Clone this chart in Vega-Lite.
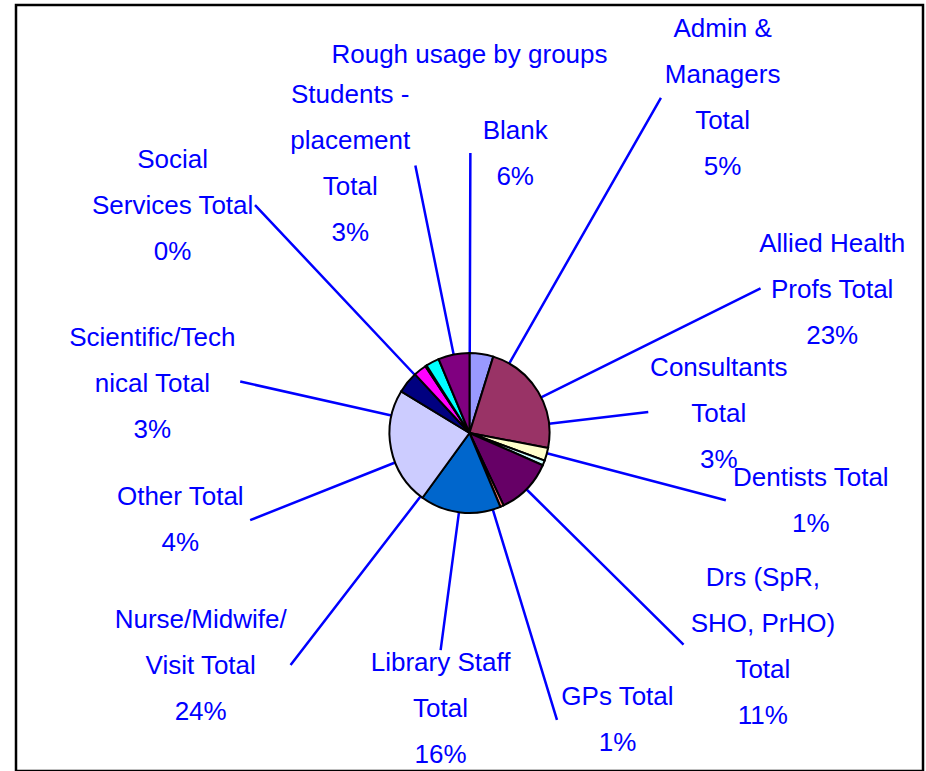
{
  "$schema": "https://vega.github.io/schema/vega-lite/v6.json",
  "width": 907,
  "height": 766,
  "autosize": {"type": "none"},
  "padding": {"left": 16, "top": 5, "right": 3, "bottom": 0},
  "background": "white",
  "view": {"stroke": "black", "strokeWidth": 2.5, "fill": "white"},
  "title": {
    "text": "Rough usage by groups",
    "font": "Liberation Sans, Arial, sans-serif",
    "fontSize": 26,
    "fontWeight": "normal",
    "color": "#0000FF",
    "anchor": "middle",
    "frame": "group",
    "baseline": "alphabetic",
    "offset": -84
  },
  "data": {
    "values": [
      {"idx": 0, "cat": "Admin & Managers Total", "value": 4.8, "label": "Admin &\nManagers\nTotal\n5%"},
      {"idx": 1, "cat": "Allied Health Profs Total", "value": 23.2, "label": "Allied Health\nProfs Total\n23%"},
      {"idx": 2, "cat": "Consultants Total", "value": 2.6, "label": "Consultants\nTotal\n3%"},
      {"idx": 3, "cat": "Dentists Total", "value": 1.0, "label": "Dentists Total\n1%"},
      {"idx": 4, "cat": "Drs (SpR, SHO, PrHO) Total", "value": 11.4, "label": "Drs (SpR,\nSHO, PrHO)\nTotal\n11%"},
      {"idx": 5, "cat": "GPs Total", "value": 0.7, "label": "GPs Total\n1%"},
      {"idx": 6, "cat": "Library Staff Total", "value": 16.3, "label": "Library Staff\nTotal\n16%"},
      {"idx": 7, "cat": "Nurse/Midwife/Visit Total", "value": 23.7, "label": "Nurse/Midwife/\nVisit Total\n24%"},
      {"idx": 8, "cat": "Other Total", "value": 4.4, "label": "Other Total\n4%"},
      {"idx": 9, "cat": "Scientific/Technical Total", "value": 2.6, "label": "Scientific/Tech\nnical Total\n3%"},
      {"idx": 10, "cat": "Social Services Total", "value": 0.3, "label": "Social\nServices Total\n0%"},
      {"idx": 11, "cat": "Students - placement Total", "value": 2.7, "label": "Students -\nplacement\nTotal\n3%"},
      {"idx": 12, "cat": "Blank", "value": 6.3, "label": "Blank\n6%"}
    ]
  },
  "encoding": {
    "theta": {"field": "value", "type": "quantitative", "stack": true},
    "order": {"field": "idx", "type": "quantitative"}
  },
  "layer": [
    {
      "mark": {
        "type": "arc",
        "radius": {"expr": "[386, 325, 180, 265, 301, 300, 219, 293, 236, 235, 313, 273, 280][datum.idx]"},
        "radius2": 80,
        "padAngle": 3.2,
        "thetaOffset": {"expr": "[0.368, 0.079, -0.387, -0.127, 0.007, 0.122, 0.016, -0.716, -1.063, -0.684, -0.180, 0.281, 0.201][datum.idx]"},
        "yOffset": 45,
        "filled": false,
        "stroke": "#0000FF",
        "strokeWidth": 2.5
      }
    },
    {
      "mark": {"type": "arc", "radius": 80, "yOffset": 45, "stroke": "black", "strokeWidth": 2},
      "encoding": {
        "color": {
          "field": "cat",
          "type": "nominal",
          "legend": null,
          "scale": {
            "domain": ["Admin & Managers Total", "Allied Health Profs Total", "Consultants Total", "Dentists Total", "Drs (SpR, SHO, PrHO) Total", "GPs Total", "Library Staff Total", "Nurse/Midwife/Visit Total", "Other Total", "Scientific/Technical Total", "Social Services Total", "Students - placement Total", "Blank"],
            "range": ["#9999FF", "#993366", "#FFFFCC", "#CCFFFF", "#660066", "#FF8080", "#0066CC", "#CCCCFF", "#000080", "#FF00FF", "#FFFF00", "#00FFFF", "#800080"]
          }
        }
      }
    },
    {
      "mark": {
        "type": "text",
        "radius": {"expr": "[420, 390, 250, 348, 363, 323, 278, 356, 302, 321, 374, 294, 283][datum.idx]"},
        "thetaOffset": {"expr": "[0.496, 0.164, -0.347, -0.187, -0.143, -0.058, -0.012, -0.517, -0.977, -0.750, -0.342, 0.063, 0.360][datum.idx]"},
        "yOffset": 45,
        "dy": {"expr": "-23 * (length(split(datum.label, '\\n')) - 1)"},
        "lineBreak": "\n",
        "font": "Liberation Sans, Arial, sans-serif",
        "fontSize": 26,
        "lineHeight": 46,
        "color": "#0000FF",
        "align": "center",
        "baseline": "middle"
      },
      "encoding": {"text": {"field": "label", "type": "nominal"}}
    }
  ]
}
